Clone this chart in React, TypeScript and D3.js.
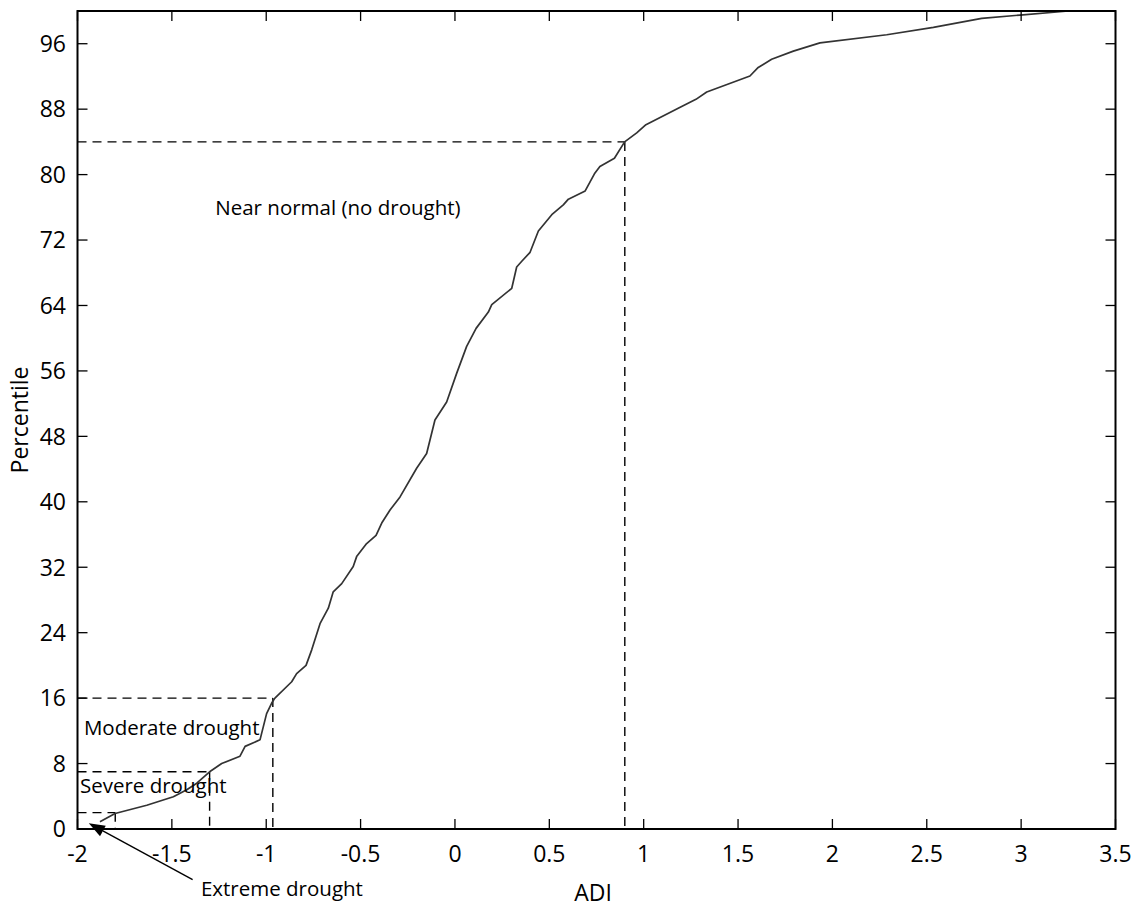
import React from "react";
import * as d3 from "d3";

// ---- Data ----
const adi = [
  -1.881, -1.801, -1.633, -1.492, -1.421, -1.368, -1.294, -1.236, -1.139, -1.112,
  -1.033, -0.998, -0.971, -0.954, -0.865, -0.839, -0.789, -0.759, -0.715, -0.671,
  -0.645, -0.6, -0.539, -0.521, -0.468, -0.418, -0.388, -0.344, -0.291, -0.203,
  -0.15, -0.106, -0.044, 0.009, 0.062, 0.112, 0.177, 0.195, 0.301, 0.327,
  0.354, 0.398, 0.442, 0.513, 0.574, 0.601, 0.69, 0.739, 0.768, 0.845,
  0.899, 0.963, 1.012, 1.183, 1.277, 1.334, 1.563, 1.607, 1.678, 1.793,
  1.934, 2.288, 2.535, 2.791, 2.994, 3.25,
];
const percentile = [
  0.9, 1.9, 2.9, 3.95, 4.8, 5.6, 7.1, 8.0, 8.9, 10.1,
  10.9, 14.1, 15.4, 16.0, 18.0, 19.0, 20.0, 21.9, 25.1, 27.0,
  29.0, 30.0, 32.1, 33.3, 34.9, 35.9, 37.4, 39.0, 40.6, 44.1,
  45.9, 50.0, 52.2, 55.7, 59.0, 61.2, 63.2, 64.1, 66.1, 68.7,
  69.4, 70.5, 73.1, 75.1, 76.3, 77.0, 78.0, 80.1, 81.0, 82.0,
  84.0, 85.1, 86.1, 88.1, 89.2, 90.1, 92.05, 93.1, 94.1, 95.1,
  96.1, 97.1, 98.0, 99.1, 99.5, 100.0,
];

const xTicks = [-2, -1.5, -1, -0.5, 0, 0.5, 1, 1.5, 2, 2.5, 3, 3.5];
const yTicks = [0, 8, 16, 24, 32, 40, 48, 56, 64, 72, 80, 88, 96];

// drought class thresholds (ADI, percentile)
const thresholdADI = [0.9, -0.965, -1.3, -1.8];
const thresholdPct = [84, 16, 7, 2];

// annotation labels with anchor in data units
const labelText = ["Near normal (no drought)", "Moderate drought", "Severe drought", "Extreme drought"];
const labelADI = [-1.27, -1.966, -1.987, -1.346];
const labelPct = [75.1, 11.5, 4.4, -8.2];

// arrow for "Extreme drought": tail -> tip (data units)
const arrowFrom = [-1.39, -6.2];
const arrowTo = [-1.94, 0.7];

const W = 1133;
const H = 907;
const FONT = "'Open Sans', 'Noto Sans', sans-serif";

export default function App() {
  const x = d3.scaleLinear().domain([-2, 3.5]).range([77.5, 1115.5]);
  const y = d3.scaleLinear().domain([0, 100]).range([829, 11]);
  const [x0, x1] = x.range();
  const [y0, y1] = y.range();

  const pts = adi.map((a, i) => [a, percentile[i]] as [number, number]);
  const line = d3
    .line<[number, number]>()
    .x((d) => x(d[0]))
    .y((d) => y(d[1]));

  // arrow geometry
  const ax0 = x(arrowFrom[0]);
  const ay0 = y(arrowFrom[1]);
  const ax1 = x(arrowTo[0]);
  const ay1 = y(arrowTo[1]);
  const ang = Math.atan2(ay1 - ay0, ax1 - ax0);
  const hl = 16;
  const hw = 6;
  const bx = ax1 - hl * Math.cos(ang);
  const by = ay1 - hl * Math.sin(ang);
  const head = [
    [ax1, ay1],
    [bx + hw * Math.sin(ang), by - hw * Math.cos(ang)],
    [bx - hw * Math.sin(ang), by + hw * Math.cos(ang)],
  ]
    .map((p) => p.join(","))
    .join(" ");

  const tickLen = 10;

  return (
    <div style={{ position: "absolute", left: 0, top: 0 }}>
      <svg width={W} height={H} style={{ display: "block", background: "#fff" }} fontFamily={FONT}>
        {/* threshold dashed lines */}
        {thresholdADI.map((t, i) => (
          <g key={"th" + i} stroke="#000" strokeWidth={1.4} strokeDasharray="9,6" fill="none">
            <line x1={x0} x2={x(t)} y1={y(thresholdPct[i])} y2={y(thresholdPct[i])} />
            <line x1={x(t)} x2={x(t)} y1={y(thresholdPct[i])} y2={y0} />
          </g>
        ))}

        {/* curve */}
        <path d={line(pts) || ""} fill="none" stroke="#333" strokeWidth={1.7} strokeLinejoin="round" />

        {/* ticks (inward, all four sides) */}
        {xTicks.map((t) => (
          <g key={"xt" + t} stroke="#000" strokeWidth={1.3}>
            <line x1={x(t)} x2={x(t)} y1={y0} y2={y0 - tickLen} />
            <line x1={x(t)} x2={x(t)} y1={y1} y2={y1 + tickLen} />
          </g>
        ))}
        {yTicks.map((t) => (
          <g key={"yt" + t} stroke="#000" strokeWidth={1.3}>
            <line x1={x0} x2={x0 + tickLen} y1={y(t)} y2={y(t)} />
            <line x1={x1} x2={x1 - tickLen} y1={y(t)} y2={y(t)} />
          </g>
        ))}

        {/* frame */}
        <rect x={x0} y={y1} width={x1 - x0} height={y0 - y1} fill="none" stroke="#000" strokeWidth={2} />

        {/* tick labels */}
        {xTicks.map((t) => (
          <text key={"xl" + t} x={x(t)} y={y0 + 33} textAnchor="middle" fontSize={23} fill="#000">
            {String(t)}
          </text>
        ))}
        {yTicks.map((t) => (
          <text key={"yl" + t} x={66} y={y(t)} dy="0.36em" textAnchor="end" fontSize={23} fill="#000">
            {String(t)}
          </text>
        ))}

        {/* axis titles */}
        <text x={593} y={901} textAnchor="middle" fontSize={23} fill="#000">
          ADI
        </text>
        <text transform={`translate(28,${(y0 + y1) / 2}) rotate(-90)`} textAnchor="middle" fontSize={23} fill="#000">
          Percentile
        </text>

        {/* annotations */}
        {labelText.map((s, i) => (
          <text key={"lab" + i} x={x(labelADI[i])} y={y(labelPct[i])} fontSize={20.5} fill="#000">
            {s}
          </text>
        ))}

        {/* arrow */}
        <line x1={ax0} y1={ay0} x2={bx} y2={by} stroke="#000" strokeWidth={1.4} />
        <polygon points={head} fill="#000" />
      </svg>
    </div>
  );
}
